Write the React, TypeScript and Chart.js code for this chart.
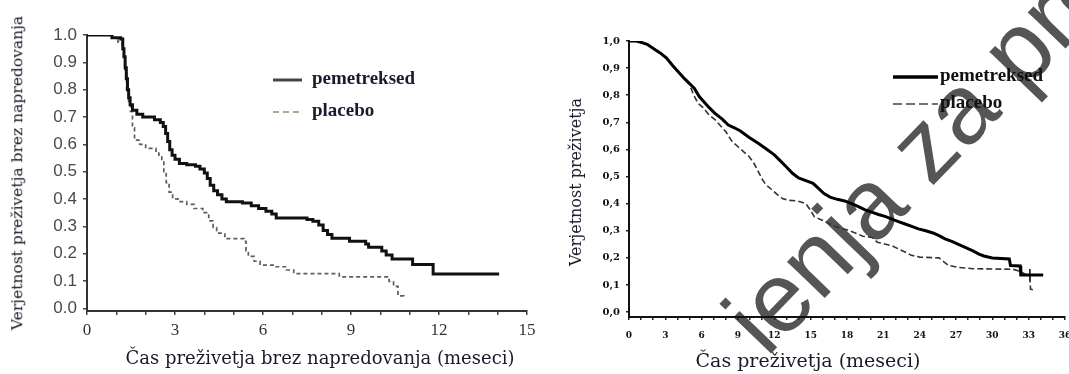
import React, { useEffect, useRef } from "react";
import { Chart, registerables } from "chart.js";

Chart.register(...registerables);

// ---------- Left chart: progression-free survival (months) ----------
const pfsPemetreksedTime = [0, 0.78, 0.85, 1.15, 1.22, 1.26, 1.3, 1.34, 1.38, 1.42, 1.47, 1.55, 1.7, 1.9, 2.3, 2.5, 2.6, 2.68, 2.75, 2.82, 2.9, 3.0, 3.15, 3.4, 3.7, 3.85, 4.0, 4.1, 4.2, 4.32, 4.45, 4.6, 4.75, 5.3, 5.6, 5.85, 6.1, 6.3, 6.45, 7.5, 7.7, 7.9, 8.05, 8.2, 8.35, 8.95, 9.5, 9.6, 10.05, 10.2, 10.4, 11.1, 11.8, 14.05];
const pfsPemetreksedSurv = [1.0, 1.0, 0.99, 0.985, 0.95, 0.92, 0.88, 0.84, 0.8, 0.77, 0.745, 0.725, 0.71, 0.7, 0.69, 0.68, 0.665, 0.64, 0.61, 0.58, 0.56, 0.545, 0.53, 0.525, 0.52, 0.51, 0.495, 0.475, 0.45, 0.43, 0.415, 0.4, 0.39, 0.385, 0.375, 0.365, 0.355, 0.345, 0.33, 0.325, 0.318, 0.305, 0.285, 0.27, 0.256, 0.245, 0.235, 0.223, 0.21, 0.195, 0.18, 0.16, 0.125, 0.125];
const pfsPlaceboTime = [0, 0.8, 0.9, 1.05, 1.2, 1.25, 1.3, 1.35, 1.42, 1.48, 1.55, 1.62, 1.8, 2.0, 2.35, 2.45, 2.55, 2.62, 2.7, 2.8, 2.92, 3.1, 3.4, 3.65, 3.95, 4.15, 4.3, 4.42, 4.7, 5.35, 5.42, 5.5, 5.7, 5.9, 6.4, 6.8, 7.05, 8.5, 8.6, 10.15, 10.3, 10.45, 10.6, 10.8];
const pfsPlaceboSurv = [1.0, 1.0, 0.99, 0.975, 0.95, 0.92, 0.86, 0.8, 0.75, 0.72, 0.66, 0.615, 0.6, 0.585, 0.575, 0.56, 0.54, 0.5, 0.46, 0.425, 0.4, 0.39, 0.38, 0.365, 0.35, 0.32, 0.295, 0.275, 0.255, 0.245, 0.21, 0.19, 0.172, 0.158, 0.152, 0.14, 0.127, 0.127, 0.115, 0.115, 0.098, 0.08, 0.045, 0.035];
const pfsXTicks = [0, 1, 2, 3, 4, 5, 6, 7, 8, 9, 10, 11, 12, 13, 14, 15];
const pfsXLabels = [0, 3, 6, 9, 12, 15];
const pfsYTicks = [0, 0.1, 0.2, 0.3, 0.4, 0.5, 0.6, 0.7, 0.8, 0.9, 1.0];

// ---------- Right chart: overall survival (months) ----------
const osPemetreksedTime = [0, 0.6, 1.0, 1.5, 2.1, 2.6, 3.1, 3.6, 4.1, 4.6, 5.0, 5.4, 5.8, 6.2, 6.6, 7.1, 7.7, 8.2, 8.7, 9.2, 9.9, 10.7, 11.4, 12.0, 12.5, 13.0, 13.5, 14.0, 14.6, 15.2, 15.6, 16.1, 16.6, 17.2, 17.8, 18.4, 18.9, 19.5, 20.1, 20.6, 21.2, 21.7, 22.3, 22.8, 23.4, 23.9, 24.5, 25.1, 25.6, 26.1, 26.7, 27.2, 27.8, 28.4, 28.9, 29.3, 30.0, 31.4, 31.5, 32.3, 32.35, 34.2];
const osPemetreksedSurv = [1.0, 1.0, 0.995, 0.988, 0.97, 0.955, 0.937, 0.91, 0.885, 0.86, 0.843, 0.825, 0.795, 0.775, 0.755, 0.733, 0.712, 0.69, 0.68, 0.668, 0.645, 0.622, 0.6, 0.58, 0.558, 0.535, 0.512, 0.495, 0.485, 0.475, 0.458, 0.437, 0.424, 0.416, 0.41, 0.4, 0.39, 0.377, 0.368, 0.36, 0.352, 0.343, 0.333, 0.325, 0.315, 0.307, 0.3, 0.292, 0.282, 0.27, 0.26, 0.25, 0.238, 0.226, 0.214, 0.207, 0.2, 0.196, 0.172, 0.17, 0.137, 0.137];
const osPlaceboTime = [0, 0.6, 1.0, 1.5, 2.1, 2.6, 3.1, 3.6, 4.1, 4.6, 5.0, 5.3, 5.7, 6.1, 6.6, 7.1, 7.5, 8.0, 8.5, 9.0, 9.5, 9.9, 10.3, 10.6, 11.0, 11.3, 11.7, 12.2, 12.7, 13.3, 13.9, 14.6, 15.0, 15.3, 15.8, 16.3, 16.9, 17.5, 18.2, 18.8, 19.3, 20.1, 20.5, 21.2, 21.8, 22.3, 22.8, 23.3, 24.0, 25.6, 26.0, 26.4, 27.2, 28.4, 31.7, 32.3, 33.1, 33.15, 33.5];
const osPlaceboSurv = [1.0, 1.0, 0.995, 0.988, 0.97, 0.955, 0.937, 0.91, 0.885, 0.86, 0.84, 0.805, 0.77, 0.755, 0.728, 0.71, 0.69, 0.665, 0.63, 0.61, 0.59, 0.575, 0.55, 0.525, 0.49, 0.47, 0.455, 0.435, 0.418, 0.412, 0.41, 0.4, 0.375, 0.352, 0.342, 0.332, 0.318, 0.31, 0.3, 0.29, 0.28, 0.275, 0.258, 0.25, 0.243, 0.232, 0.222, 0.21, 0.203, 0.2, 0.185, 0.172, 0.165, 0.16, 0.158, 0.15, 0.13, 0.085, 0.08];
const osCensorTime = [33.1];
const osCensorSurv = [0.137];
const osXTicks = [0, 1, 2, 3, 4, 5, 6, 7, 8, 9, 10, 11, 12, 13, 14, 15, 16, 17, 18, 19, 20, 21, 22, 23, 24, 25, 26, 27, 28, 29, 30, 31, 32, 33, 34, 35, 36];
const osXLabels = [0, 3, 6, 9, 12, 15, 18, 21, 24, 27, 30, 33, 36];
const osYTicks = [0, 0.1, 0.2, 0.3, 0.4, 0.5, 0.6, 0.7, 0.8, 0.9, 1.0];

const legendLabels = ["pemetreksed", "placebo"];
const pfsXTitle = "Čas preživetja brez napredovanja (meseci)";
const pfsYTitle = "Verjetnost preživetja brez napredovanja";
const osXTitle = "Čas preživetja (meseci)";
const osYTitle = "Verjetnost preživetja";
const watermarkText = "ienja za pro";

function kmPoints(times: number[], surv: number[]) {
  return times.map((t, i) => ({ x: t, y: surv[i] }));
}

type LegendItem = { text: string; color: string; width: number; dash: number[] };
type LegendCfg = { x: number; y: number; gap: number; len: number; textGap: number; font: string; textColor: string; items: LegendItem[] };

function makeLegendPlugin(cfg: LegendCfg) {
  return {
    id: "kmLegend",
    afterDatasetsDraw(chart: any) {
      const ctx = chart.ctx as CanvasRenderingContext2D;
      cfg.items.forEach((item, i) => {
        const y = cfg.y + i * cfg.gap;
        ctx.save();
        ctx.strokeStyle = item.color;
        ctx.lineWidth = item.width;
        ctx.setLineDash(item.dash);
        ctx.beginPath();
        ctx.moveTo(cfg.x, y);
        ctx.lineTo(cfg.x + cfg.len, y);
        ctx.stroke();
        ctx.setLineDash([]);
        ctx.fillStyle = cfg.textColor;
        ctx.font = cfg.font;
        ctx.textBaseline = "middle";
        ctx.textAlign = "left";
        ctx.fillText(item.text, cfg.x + cfg.len + cfg.textGap, y - 1);
        ctx.restore();
      });
    },
  };
}

function leftConfig(): any {
  return {
    type: "line",
    data: {
      datasets: [
        { label: legendLabels[0], data: kmPoints(pfsPemetreksedTime, pfsPemetreksedSurv), borderColor: "#111", borderWidth: 3, stepped: "before", pointRadius: 0, fill: false },
        { label: legendLabels[1], data: kmPoints(pfsPlaceboTime, pfsPlaceboSurv), borderColor: "#5e5e5e", borderWidth: 1.7, borderDash: [4, 3], stepped: "before", pointRadius: 0, fill: false },
      ],
    },
    options: {
      animation: false,
      responsive: false,
      events: [],
      layout: { padding: { top: 35, right: 18, bottom: 0, left: 0 } },
      plugins: { legend: { display: false }, tooltip: { enabled: false } },
      scales: {
        x: {
          type: "linear", min: 0, max: 15,
          afterFit: (s: any) => { s.height = 63; },
          afterBuildTicks: (s: any) => { s.ticks = pfsXTicks.map((v) => ({ value: v })); },
          ticks: { autoSkip: false, maxRotation: 0, padding: 5, color: "#333", font: { family: "Liberation Serif", size: 17 }, callback: (v: number) => (pfsXLabels.includes(v) ? String(v) : "") },
          grid: { drawOnChartArea: false, drawTicks: true, tickLength: 4, color: "#444", lineWidth: 1.5 },
          border: { display: true, color: "#333", width: 2 },
        },
        y: {
          type: "linear", min: -0.01, max: 1.0,
          afterFit: (s: any) => { s.width = 87; },
          afterBuildTicks: (s: any) => { s.ticks = pfsYTicks.map((v) => ({ value: v })); },
          ticks: { padding: 6, color: "#4a4a4a", font: { family: "Liberation Sans", size: 17 }, callback: (v: number) => Number(v).toFixed(1) },
          grid: { drawOnChartArea: false, drawTicks: true, tickLength: 4, color: "#444", lineWidth: 1.5 },
          border: { display: true, color: "#333", width: 2 },
        },
      },
    },
    plugins: [
      makeLegendPlugin({
        x: 273, y: 80, gap: 32, len: 29, textGap: 10, font: "bold 19px 'Liberation Serif'", textColor: "#1a1a30",
        items: [
          { text: legendLabels[0], color: "#444", width: 3, dash: [] },
          { text: legendLabels[1], color: "#a9a993", width: 2, dash: [6, 4] },
        ],
      }),
    ],
  };
}

function rightConfig(): any {
  return {
    type: "line",
    data: {
      datasets: [
        { label: legendLabels[0], data: kmPoints(osPemetreksedTime, osPemetreksedSurv), borderColor: "#000", borderWidth: 3, pointRadius: 0, fill: false, tension: 0 },
        { label: legendLabels[1], data: kmPoints(osPlaceboTime, osPlaceboSurv), borderColor: "#333", borderWidth: 1.6, borderDash: [6, 3], pointRadius: 0, fill: false, tension: 0 },
        { label: "cenzurirano", data: kmPoints(osCensorTime, osCensorSurv), showLine: false, pointStyle: "line", rotation: 90, pointRadius: 6, borderColor: "#000", borderWidth: 1.5 },
      ],
    },
    options: {
      animation: false,
      responsive: false,
      events: [],
      layout: { padding: { top: 41, right: 20, bottom: 0, left: 0 } },
      plugins: { legend: { display: false }, tooltip: { enabled: false } },
      scales: {
        x: {
          type: "linear", min: 0, max: 36,
          afterFit: (s: any) => { s.height = 57; },
          afterBuildTicks: (s: any) => { s.ticks = osXTicks.map((v) => ({ value: v })); },
          ticks: { autoSkip: false, maxRotation: 0, padding: 10, color: "#111", font: { family: "DejaVu Serif", size: 9, weight: "bold" }, callback: (v: number) => (osXLabels.includes(v) ? String(v) : "") },
          grid: { drawOnChartArea: false, drawTicks: true, tickLength: 3, color: "#222", lineWidth: 1.5 },
          border: { display: true, color: "#111", width: 2 },
        },
        y: {
          type: "linear", min: -0.018, max: 1.0,
          afterFit: (s: any) => { s.width = 84; },
          afterBuildTicks: (s: any) => { s.ticks = osYTicks.map((v) => ({ value: v })); },
          ticks: { padding: 6, color: "#111", font: { family: "DejaVu Serif", size: 10, weight: "bold" }, callback: (v: number) => Number(v).toFixed(1).replace(".", ",") },
          grid: { drawOnChartArea: false, drawTicks: true, tickLength: 3, color: "#222", lineWidth: 1.5 },
          border: { display: true, color: "#111", width: 2 },
        },
      },
    },
    plugins: [
      makeLegendPlugin({
        x: 893 - 545, y: 77, gap: 27, len: 45, textGap: 2, font: "bold 19px 'Liberation Serif'", textColor: "#111",
        items: [
          { text: legendLabels[0], color: "#000", width: 3.5, dash: [] },
          { text: legendLabels[1], color: "#444", width: 1.5, dash: [9, 4] },
        ],
      }),
    ],
  };
}

function ChartCanvas({ left, top, width, height, config }: { left: number; top: number; width: number; height: number; config: () => any }) {
  const ref = useRef<HTMLCanvasElement | null>(null);
  useEffect(() => {
    if (!ref.current) return;
    const chart = new Chart(ref.current, config());
    return () => chart.destroy();
  }, []);
  return <canvas ref={ref} width={width} height={height} style={{ position: "absolute", left, top, width, height, display: "block" }} />;
}

const titleBase: React.CSSProperties = {
  position: "absolute",
  whiteSpace: "nowrap",
  fontFamily: "'DejaVu Serif', serif",
  color: "#1a1a2a",
  lineHeight: 1,
};

export default function App() {
  return (
    <div style={{ position: "fixed", left: 0, top: 0, width: 1069, height: 374, overflow: "hidden", background: "#fff" }}>
      <div
        style={{
          position: "absolute",
          left: 706,
          top: 300,
          transformOrigin: "0 0",
          transform: "rotate(-46deg)",
          fontFamily: "'Liberation Sans', Arial, sans-serif",
          fontSize: 99,
          lineHeight: 1,
          color: "#555",
          whiteSpace: "nowrap",
        }}
      >
        {watermarkText}
      </div>
      <ChartCanvas left={0} top={0} width={545} height={374} config={leftConfig} />
      <ChartCanvas left={545} top={0} width={540} height={374} config={rightConfig} />
      <div style={{ ...titleBase, left: 320, top: 358, fontSize: 18, transform: "translate(-50%, -50%)" }}>{pfsXTitle}</div>
      <div style={{ ...titleBase, left: 18, top: 173, fontSize: 15.5, transform: "translate(-50%, -50%) rotate(-90deg)" }}>{pfsYTitle}</div>
      <div style={{ ...titleBase, left: 808, top: 360, fontSize: 19, transform: "translate(-50%, -50%)" }}>{osXTitle}</div>
      <div style={{ ...titleBase, left: 576, top: 182, fontSize: 16, transform: "translate(-50%, -50%) rotate(-90deg)" }}>{osYTitle}</div>
    </div>
  );
}
